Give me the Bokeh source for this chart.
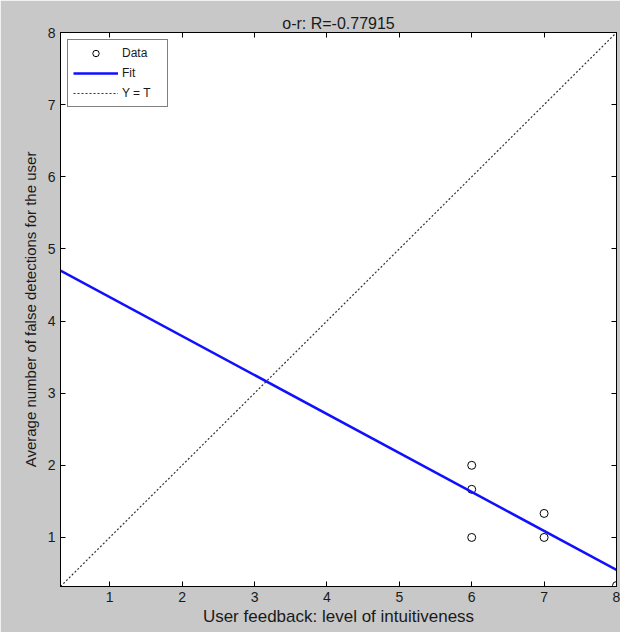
from bokeh.plotting import figure
from bokeh.models import LinearAxis, Range1d, FixedTicker, Legend, LegendItem, CustomJSTickFormatter
from bokeh.embed import file_html
from bokeh.resources import INLINE

# Data
data_x = [6, 6, 6, 7, 7, 8]
data_y = [2.0, 1.667, 1.0, 1.333, 1.0, 0.333]
fit_x = [0.32, 8.0]
fit_y = [4.70, 0.55]
ident_x = [0.32, 8.0]
ident_y = [0.32, 8.0]
ticks = [1, 2, 3, 4, 5, 6, 7, 8]
title_text = "o-r: R=-0.77915"
xlabel = "User feedback: level of intuitiveness"
ylabel = "Average number of false detections for the user"

FONT = "Liberation Sans"
GREY = "#c8c8c8"

p = figure(width=620, height=632, output_backend="svg", toolbar_location=None,
           x_range=Range1d(0.32, 8.0), y_range=Range1d(0.32, 8.0),
           min_border_left=60, min_border_right=4, min_border_top=32, min_border_bottom=46)
p.background_fill_color = "white"
p.border_fill_color = GREY
p.outline_line_color = "black"
p.outline_line_width = 1
p.xgrid.visible = False
p.ygrid.visible = False

p.title.text = title_text
p.title.align = "center"
p.title.text_font = FONT
p.title.text_font_size = "16px"
p.title.text_font_style = "normal"
p.title.text_color = "#1a1a1a"
p.title.standoff = 2

def style_axis(ax):
    ax.ticker = FixedTicker(ticks=ticks)
    ax.major_tick_in = 5
    ax.major_tick_out = 0
    ax.minor_tick_line_color = None
    ax.axis_line_color = "black"
    ax.major_tick_line_color = "black"
    ax.major_label_text_font = FONT
    ax.major_label_text_font_size = "14px"
    ax.major_label_text_color = "#1a1a1a"
    ax.axis_label_text_font = FONT
    ax.axis_label_text_font_style = "normal"
    ax.axis_label_text_color = "#1a1a1a"

style_axis(p.xaxis[0])
style_axis(p.yaxis[0])
p.xaxis.axis_label = xlabel
p.yaxis.axis_label = ylabel
p.xaxis.axis_label_text_font_size = "17px"
p.yaxis.axis_label_text_font_size = "15px"
p.xaxis.major_label_standoff = 5
p.yaxis.major_label_standoff = 5
p.xaxis.axis_label_standoff = 2
p.yaxis.axis_label_standoff = 6

top = LinearAxis(formatter=CustomJSTickFormatter(code="return '';"))
style_axis(top)
top.major_label_standoff = 0
right = LinearAxis(formatter=CustomJSTickFormatter(code="return '';"))
style_axis(right)
right.major_label_standoff = 0
p.add_layout(top, "above")
p.add_layout(right, "right")

r_data = p.scatter(data_x, data_y, marker="circle", size=8, fill_color=None,
                   line_color="black", line_width=1)
r_fit = p.line(fit_x, fit_y, line_color="#1010ff", line_width=2.5)
r_id = p.line(ident_x, ident_y, line_color="#333333", line_width=1.2, line_dash="2 2")

legend = Legend(items=[LegendItem(label="Data", renderers=[r_data]),
                       LegendItem(label="Fit", renderers=[r_fit]),
                       LegendItem(label="Y = T", renderers=[r_id])],
                location="top_left")
legend.border_line_color = "black"
legend.border_line_width = 1
legend.background_fill_color = "white"
legend.background_fill_alpha = 1
legend.label_text_font = FONT
legend.label_text_font_size = "12px"
legend.label_text_color = "#1a1a1a"
legend.glyph_width = 45
legend.glyph_height = 16
legend.label_height = 16
legend.label_width = 40
legend.spacing = 4
legend.padding = 5
legend.margin = 7
legend.label_standoff = 4
p.add_layout(legend)

open("out.html", "w").write(file_html(p, INLINE))
